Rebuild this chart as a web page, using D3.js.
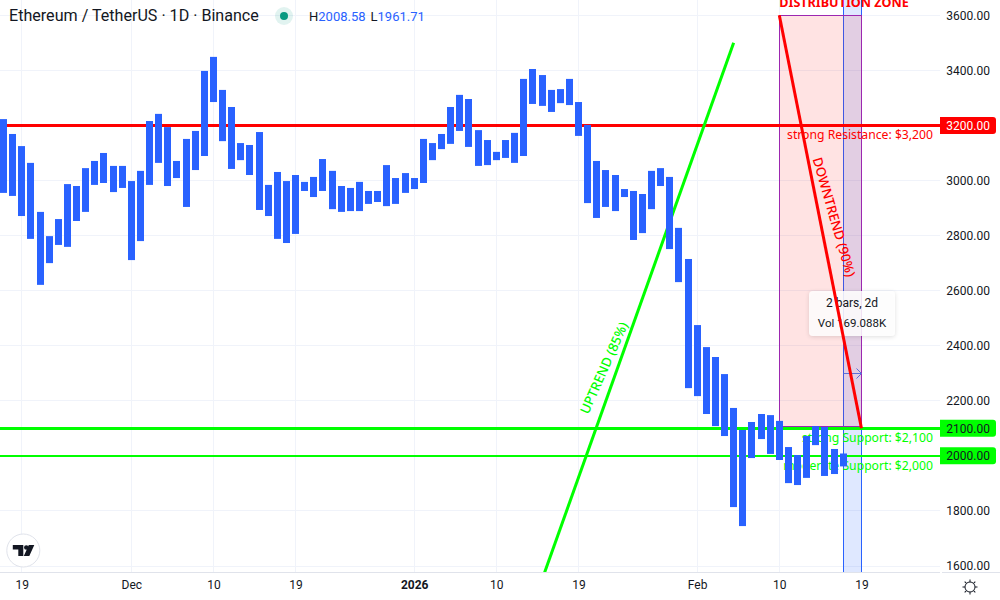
<!DOCTYPE html>
<html lang="en">
<head>
    <meta charset="UTF-8">
    <title>Ethereum / TetherUS 1D</title>
    <script src="https://d3js.org/d3.v7.min.js"></script>
    <style>
        html, body { margin: 0; padding: 0; background: #fff; overflow: hidden; }
        svg { display: block; }
        text { font-family: Roboto, sans-serif; fill: #131722; }
        .axis path, .axis line { display: none; }
        .axis text { font-size: 12px; }
        .note { font-family: "Noto Sans", sans-serif; font-size: 12.2px; }
    </style>
</head>
<body>
    <div id="chart"></div>
    <script>
        // one bar per day, first bar is this date
        const firstDay = "2025-11-17";
        const highs = [3223, 3169, 3125, 3064, 2886, 2798, 2860, 2987, 2980, 3045, 3071, 3100, 3053, 3053, 2998, 3035,
            3216, 3242, 3194, 3071, 3151, 3180, 3398, 3449, 3329, 3267, 3136, 3129, 3176, 2984, 3031, 2998,
            3020, 2995, 3013, 3078, 3035, 2980, 2973, 2995, 2962, 2962, 3056, 3009, 3027, 3009, 3151, 3136,
            3169, 3267, 3311, 3296, 3183, 3147, 3104, 3147, 3173, 3369, 3405, 3383, 3329, 3332, 3369, 3285,
            3202, 3071, 3038, 3020, 2969, 2962, 2951, 3035, 3045, 3013, 2828, 2715, 2475, 2395, 2359, 2297,
            2174, 2094, 2123, 2152, 2148, 2127, 2032, 2003, 2072, 2108, 2105, 2025, 2008.58];
        const lows = [2955, 2944, 2871, 2788, 2621, 2700, 2766, 2759, 2853, 2886, 2984, 2991, 2958, 2973, 2711, 2780,
            2984, 3064, 2980, 3009, 2904, 3038, 3089, 3285, 3143, 3042, 3074, 3020, 2893, 2871, 2788, 2773,
            2806, 2962, 2940, 2962, 2896, 2886, 2889, 2889, 2915, 2922, 2907, 2915, 2955, 2969, 2991, 3074,
            3114, 3133, 3180, 3122, 3053, 3056, 3074, 3082, 3064, 3089, 3278, 3271, 3249, 3281, 3274, 3162,
            2918, 2864, 2904, 2889, 2940, 2784, 2809, 2896, 2980, 2751, 2631, 2246, 2217, 2152, 2108, 2072,
            1814, 1745, 1992, 2061, 2007, 1985, 1901, 1894, 1920, 2039, 1927, 1934, 1961.71];

        const priceTicks = [3600, 3400, 3000, 2800, 2600, 2400, 2200, 1800, 1600];
        const gridPrices = [3600, 3400, 3200, 3000, 2800, 2600, 2400, 2200, 2000, 1800, 1600];
        const dateTicks = ["2025-11-19", "2025-12-01", "2025-12-10", "2025-12-19", "2026-01-01", "2026-01-10",
            "2026-01-19", "2026-02-01", "2026-02-10", "2026-02-19"];
        const dateLabels = ["19", "Dec", "10", "19", "2026", "10", "19", "Feb", "10", "19"];

        const paneW = 940, paneH = 572;
        const blue = "#2962ff", red = "#ff0000", green = "#00ff00";

        const x = d3.scaleUtc()
            .domain([new Date("2025-12-01"), new Date("2026-02-10")])
            .range([131.3, 779.3]);
        const y = d3.scaleLinear().domain([1600, 3600]).range([566, 15.3]);
        const day = s => new Date(s);
        // snap to the pixel grid so 1px strokes stay sharp
        const crisp = v => Math.floor(v) + 0.5;

        const svg = d3.select("#chart").append("svg").attr("width", 1000).attr("height", 600);
        svg.append("defs").append("clipPath").attr("id", "pane")
            .append("rect").attr("width", paneW).attr("height", paneH);
        const shadow = svg.select("defs").append("filter").attr("id", "shadow")
            .attr("x", "-20%").attr("y", "-20%").attr("width", "140%").attr("height", "150%");
        shadow.append("feDropShadow").attr("dx", 0).attr("dy", 1).attr("stdDeviation", 2)
            .attr("flood-color", "#000").attr("flood-opacity", 0.15);

        const pane = svg.append("g").attr("clip-path", "url(#pane)");

        // grid
        pane.selectAll(".gy").data(gridPrices).enter().append("line")
            .attr("x1", 0).attr("x2", paneW).attr("y1", d => crisp(y(d))).attr("y2", d => crisp(y(d)))
            .attr("stroke", "#f0f3fa");
        pane.selectAll(".gx").data(dateTicks).enter().append("line")
            .attr("x1", d => crisp(x(day(d)))).attr("x2", d => crisp(x(day(d)))).attr("y1", 0).attr("y2", paneH)
            .attr("stroke", "#f0f3fa");

        // date range (blue) and distribution zone (pink)
        const rangeX0 = crisp(x(day("2026-02-17"))), rangeX1 = crisp(x(day("2026-02-19")));
        const zoneX0 = crisp(x(day("2026-02-10")));
        pane.append("rect").attr("x", rangeX0).attr("y", -2)
            .attr("width", rangeX1 - rangeX0).attr("height", paneH + 4)
            .attr("fill", blue).attr("fill-opacity", 0.15).attr("stroke", blue).attr("stroke-width", 1);
        pane.append("rect").attr("x", zoneX0).attr("y", crisp(y(3600)))
            .attr("width", rangeX1 - zoneX0).attr("height", crisp(y(2100)) - 2 - crisp(y(3600)))
            .attr("fill", red).attr("fill-opacity", 0.11).attr("stroke", "#9c27b0").attr("stroke-width", 1);

        // horizontal levels
        pane.append("line").attr("x1", 0).attr("x2", paneW).attr("y1", crisp(y(3200))).attr("y2", crisp(y(3200)))
            .attr("stroke", red).attr("stroke-width", 3);
        pane.append("line").attr("x1", 0).attr("x2", paneW).attr("y1", crisp(y(2100))).attr("y2", crisp(y(2100)))
            .attr("stroke", green).attr("stroke-width", 3);
        pane.append("line").attr("x1", 0).attr("x2", paneW).attr("y1", Math.round(y(2000))).attr("y2", Math.round(y(2000)))
            .attr("stroke", green).attr("stroke-width", 2);

        // date range arrow + tooltip, the trend line runs over them
        const arrowY = crisp(y(2300));
        pane.append("path")
            .attr("d", `M${rangeX0},${arrowY}H${rangeX1}M${rangeX1 - 5},${arrowY - 5}L${rangeX1},${arrowY}L${rangeX1 - 5},${arrowY + 5}`)
            .attr("fill", "none").attr("stroke", "#5b6fd8").attr("stroke-width", 1);
        const tip = pane.append("g").attr("transform", "translate(809,291)");
        tip.append("rect").attr("width", 86).attr("height", 45).attr("rx", 4)
            .attr("fill", "#fff").attr("fill-opacity", 0.85).attr("filter", "url(#shadow)");
        tip.append("text").attr("x", 43).attr("y", 16).attr("text-anchor", "middle").style("font-size", "12px").text("2 bars, 2d");
        tip.append("text").attr("x", 43).attr("y", 36).attr("text-anchor", "middle").style("font-size", "11.5px").text("Vol 169.088K");

        // trend lines
        pane.append("line")
            .attr("x1", x(day("2026-01-15"))).attr("y1", y(1550))
            .attr("x2", x(day("2026-02-05"))).attr("y2", y(3500))
            .attr("stroke", green).attr("stroke-width", 3);
        pane.append("line")
            .attr("x1", x(day("2026-02-10"))).attr("y1", y(3600))
            .attr("x2", x(day("2026-02-19"))).attr("y2", y(2100))
            .attr("stroke", red).attr("stroke-width", 3);

        // notes on the levels
        const noteRight = 933;
        pane.append("text").attr("class", "note").attr("x", noteRight).attr("y", y(3200) + 14)
            .attr("text-anchor", "end").style("fill", red).text("strong Resistance: $3,200");
        pane.append("text").attr("class", "note").attr("x", noteRight).attr("y", y(2100) + 14)
            .attr("text-anchor", "end").style("fill", green).text("strong Support: $2,100");
        pane.append("text").attr("class", "note").attr("x", noteRight).attr("y", y(2000) + 14)
            .attr("text-anchor", "end").style("fill", green).text("moderate Support: $2,000");
        pane.append("text").attr("class", "note").attr("x", 844).attr("y", 7)
            .attr("text-anchor", "middle").style("fill", red).style("font-weight", "bold").style("font-size", "12.6px")
            .text("DISTRIBUTION ZONE");
        pane.append("text").attr("class", "note").attr("transform", "translate(604,368) rotate(-66)")
            .attr("text-anchor", "middle").attr("dy", "0.35em").style("fill", green).style("font-size", "13.2px")
            .style("font-weight", 500).text("UPTREND (85%)");
        pane.append("text").attr("class", "note").attr("transform", "translate(834,217) rotate(74)")
            .attr("text-anchor", "middle").attr("dy", "0.35em").style("fill", red).style("font-size", "13.2px")
            .style("font-weight", 500).text("DOWNTREND (90%)");

        // range bars
        pane.selectAll(".bar").data(highs).enter().append("rect")
            .attr("x", (d, i) => Math.round(x(d3.utcDay.offset(day(firstDay), i)) - 3.5))
            .attr("y", d => y(d))
            .attr("width", 7)
            .attr("height", (d, i) => y(lows[i]) - y(d))
            .attr("fill", blue);

        // axes
        svg.append("line").attr("x1", 0).attr("x2", paneW).attr("y1", paneH + 0.5).attr("y2", paneH + 0.5).attr("stroke", "#e0e3eb");
        svg.append("line").attr("x1", paneW + 2).attr("x2", 1000).attr("y1", paneH + 0.5).attr("y2", paneH + 0.5).attr("stroke", "#e0e3eb");

        svg.append("g").attr("class", "axis")
            .attr("transform", `translate(990,0)`)
            .call(d3.axisLeft(y).tickValues(priceTicks).tickSize(0).tickPadding(0).tickFormat(d3.format(".2f")));

        const xAxis = svg.append("g").attr("class", "axis")
            .attr("transform", `translate(0,${paneH})`)
            .call(d3.axisBottom(x).tickValues(dateTicks.map(day)).tickSize(0).tickPadding(8)
                .tickFormat((d, i) => dateLabels[i]));
        xAxis.selectAll("text").style("font-weight", (d, i) => dateLabels[i] === "2026" ? "bold" : null);

        // level tags on the price axis
        const tags = [[3200, red, "#fff"], [2100, green, "#131722"], [2000, green, "#131722"]];
        tags.forEach(([p, bg, fg]) => {
            svg.append("path")
                .attr("d", `M940,${y(p) - 8.5}H993a3,3 0 0 1 3,3V${y(p) + 5.5}a3,3 0 0 1 -3,3H940Z`)
                .attr("fill", bg);
            svg.append("text").attr("x", 990).attr("y", y(p)).attr("dy", "0.35em").attr("text-anchor", "end")
                .style("font-size", "12px").style("fill", fg).text(d3.format(".2f")(p));
        });

        // legend
        svg.append("text").attr("x", 9).attr("y", 21).style("font-size", "16.1px").text("Ethereum / TetherUS · 1D · Binance");
        svg.append("circle").attr("cx", 284).attr("cy", 16).attr("r", 9).attr("fill", "#089981").attr("fill-opacity", 0.12);
        svg.append("circle").attr("cx", 284).attr("cy", 16).attr("r", 4).attr("fill", "#089981");
        const legend = svg.append("text").attr("x", 309).attr("y", 21).style("font-size", "13px");
        legend.append("tspan").text("H");
        legend.append("tspan").style("fill", blue).text(highs[highs.length - 1].toFixed(2));
        legend.append("tspan").attr("dx", 5).text("L");
        legend.append("tspan").style("fill", blue).text(lows[lows.length - 1].toFixed(2));

        // logo
        const logo = svg.append("g").attr("transform", "translate(23.3,550.5)");
        logo.append("circle").attr("r", 16.5).attr("fill", "#fff").attr("stroke", "#e0e3eb");
        logo.append("path").attr("d", "M-10.5,-5.5H0V5.5H-5V-1H-10.5Z M5.5,-5.5H11L6,5.5H0.5Z").attr("fill", "#131722");
        logo.append("circle").attr("cx", 3).attr("cy", -3).attr("r", 2.3).attr("fill", "#131722");

        // settings icon
        const gear = svg.append("g").attr("transform", "translate(970,587)").attr("fill", "none").attr("stroke", "#131722");
        gear.append("circle").attr("r", 5);
        d3.range(8).forEach(i => {
            gear.append("line").attr("y1", -5).attr("y2", -7.5)
                .attr("transform", `rotate(${i * 45})`);
        });
    </script>
</body>
</html>
